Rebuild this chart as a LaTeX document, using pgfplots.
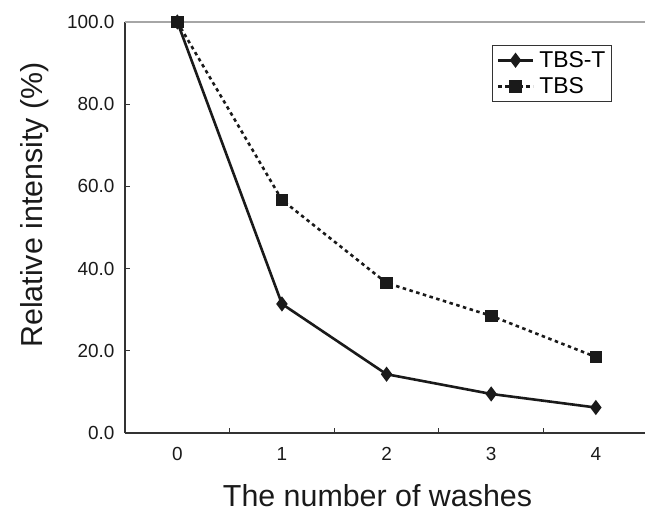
\documentclass[border=0pt]{standalone}
\usepackage{fontspec}
\setmainfont{Liberation Sans}
\usepackage{pgfplots}
\pgfplotsset{compat=1.18}
\definecolor{ink}{HTML}{1A1A1A}
\definecolor{axcol}{HTML}{333333}
\begin{document}
\begin{tikzpicture}
\begin{axis}[
  scale only axis,
  width=520bp, height=411bp,
  xmin=-0.5, xmax=4.47,
  ymin=0, ymax=100,
  axis x line*=bottom, axis y line*=left,
  axis line style={axcol, line width=1.1bp},
  tick align=inside,
  major tick length=5bp,
  tick style={axcol, line width=1bp},
  ytick={0,20,40,60,80,100},
  xtick={0.5,1.5,2.5,3.5},
  xticklabels={},
  extra x ticks={0,1,2,3,4},
  extra x tick labels={0,1,2,3,4},
  extra x tick style={major tick length=0pt},
  /pgf/number format/assume math mode=true,
  y tick label style={/pgf/number format/fixed, /pgf/number format/fixed zerofill, /pgf/number format/precision=1},
  ticklabel style={font=\fontsize{19}{22}\selectfont, text=ink},
  yticklabel style={xshift=-7bp},
  xticklabel style={yshift=-11bp},
  xlabel={The number of washes},
  ylabel={Relative intensity (\%)},
  label style={font=\fontsize{30.5}{35}\selectfont, text=ink},
  xlabel style={at={(axis description cs:0.4856,-0.178)}, anchor=base},
  ylabel style={at={(axis description cs:-0.1577,0.5547)}, anchor=base},
  legend style={at={(axis description cs:0.9365,0.944)}, anchor=north east,
    draw=axcol, line width=1bp, font=\fontsize{23}{26}\selectfont,
    inner xsep=4bp, inner ysep=4bp, row sep=5bp, legend cell align=left},
  legend image code/.code={\draw[mark repeat=2,mark phase=2] plot coordinates {(0bp,0bp) (17.5bp,0bp) (35bp,0bp)};},
  clip=false,
]
\addplot[ink, line width=2.6bp, mark=diamond*, mark size=5.5bp, mark options={solid, fill=ink}]
  coordinates {(0,100) (1,31.4) (2,14.3) (3,9.5) (4,6.2)};
\addlegendentry{\hspace{3bp}TBS-T}
\addplot[ink, line width=2.6bp, dash pattern=on 3.5bp off 3.5bp, mark=square*, mark size=5bp, mark options={solid, fill=ink}]
  coordinates {(0,100) (1,56.7) (2,36.5) (3,28.5) (4,18.5)};
\addlegendentry{\hspace{3bp}TBS}
\draw[gray!70, line width=1.2bp] (rel axis cs:0,1) -- (rel axis cs:1,1);
\coordinate (SW) at (rel axis cs:0,0);
\coordinate (NE) at (rel axis cs:1,1);
\end{axis}
\pgfresetboundingbox
\path ([shift={(-125bp,-80bp)}]SW) rectangle ([shift={(0bp,22bp)}]NE);
\end{tikzpicture}
\end{document}
